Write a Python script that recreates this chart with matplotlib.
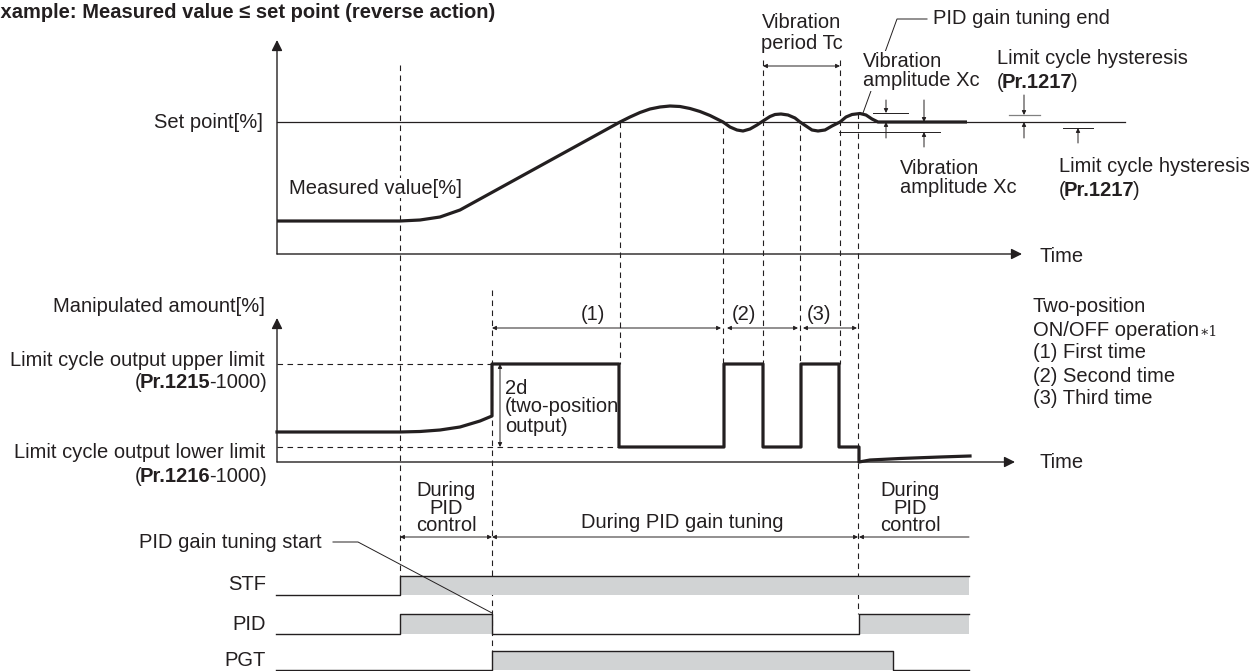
import matplotlib.pyplot as plt

plt.rcParams["font.family"] = ["Liberation Sans", "DejaVu Sans"]

INK = "#231f20"
GREY = "#d1d3d4"
FS = 14.5

# --- Daten (Zeitachse = x, Pegel = y) ---
set_point = 122
meas_t = [277, 400, 420, 440, 460, 480, 500, 520, 540, 560, 580, 600, 610, 620,
          630, 640, 650, 660, 670, 680, 690, 700, 710, 723,
          730, 737, 743, 750, 757, 763,
          770, 775, 781, 788, 795, 800,
          806, 812, 818, 825, 832, 840,
          846, 852, 860, 866, 872, 878, 967]
meas_y = [221, 221, 220, 217, 210, 199, 188, 177, 166, 155, 144, 133, 127.5, 122,
          117, 112.5, 109, 107, 106, 106.5, 108.5, 111.5, 115.5, 122,
          127, 130, 131, 129, 125, 121,
          116.5, 114.5, 114, 115, 118, 122,
          126, 130, 131, 130, 126, 122,
          117, 114.5, 113.5, 115, 119, 122, 122]

manip_pre_t = [277, 400, 420, 440, 460, 480, 492]
manip_pre_y = [432, 432, 431.5, 430, 427, 421, 416]
switch_t = [492, 619, 724, 763, 801, 839, 859]
upper_limit, lower_limit = 364, 447
manip_post_t = [859, 870, 900, 940, 970]
manip_post_y = [462, 460, 458.5, 457, 456]

dashed_x = [400, 492, 620, 723, 763, 800, 840, 858]
dashed_top = [65, 290, 122, 128, 60, 125, 60, 113]
dashed_bot = [576, 651, 364, 364, 364, 364, 364, 614]

cycles = ["(1)", "(2)", "(3)"]
cycle_span = [(492, 721), (727, 798), (803, 857)]
cycle_lab_x = [593, 744, 819]

signals = ["STF", "PID", "PGT"]
sig_low = [595, 634, 670]
sig_high = [576, 614, 651]
sig_on = [[(400, 969)], [(400, 492), (859, 969)], [(492, 893)]]
sig_end = 969

fig = plt.figure(figsize=(12.59, 6.71), dpi=100)
ax = fig.add_axes([0, 0, 1, 1])
ax.set_xlim(0, 1259)
ax.set_ylim(671, 0)
ax.axis("off")
renderer = fig.canvas.get_renderer()


def arrow(x0, y0, x1, y1, style="-|>", ms=6, lw=0.7):
    ax.annotate("", xy=(x1, y1), xytext=(x0, y0),
                arrowprops=dict(arrowstyle=style, color=INK, lw=lw,
                                mutation_scale=ms, shrinkA=0, shrinkB=0))


def txt(x, y, s, ha="left", **kw):
    kw.setdefault("fontsize", FS)
    return ax.text(x, y, s, ha=ha, va="center", color=INK, **kw)


def rich(x, y, parts, ha="left"):
    # Textstuecke nacheinander setzen (normal / fett)
    objs = []
    for s, w in parts:
        t = ax.text(0, y, s, ha="left", va="center", color=INK,
                    fontsize=FS, fontweight=w)
        objs.append(t)
    widths = [t.get_window_extent(renderer).width - 1.5 for t in objs]
    pos = x - sum(widths) if ha == "right" else x
    for t, w in zip(objs, widths):
        t.set_x(pos)
        pos += w
    return pos


# Titel
txt(-13, 12, "Example: Measured value \u2264 set point (reverse action)",
    fontweight="bold", fontsize=14.5)

# gestrichelte Hilfslinien
for x, t, b in zip(dashed_x, dashed_top, dashed_bot):
    ax.plot([x, x], [t, b], color=INK, lw=0.8, ls=(0, (5, 4)), zorder=1)
ax.plot([277, 492], [upper_limit] * 2, color=INK, lw=0.8, ls=(0, (5, 4)))
ax.plot([277, 619], [lower_limit] * 2, color=INK, lw=0.8, ls=(0, (5, 4)))

# oberes Diagramm
arrow(277, 254, 277, 40, ms=16, lw=1.0)
arrow(277, 254, 1022, 254, ms=16, lw=1.0)
ax.plot([277, 1125], [set_point] * 2, color=INK, lw=0.9)
ax.plot(meas_t, meas_y, color=INK, lw=2.3, solid_capstyle="butt", zorder=3)
txt(263, set_point, "Set point[%]", ha="right")
txt(289, 188, "Measured value[%]",
    bbox=dict(fc="white", ec="none", pad=0.5), zorder=2)
txt(1040, 256, "Time")

txt(802, 33, "Vibration\nperiod Tc", ha="center", multialignment="center",
    linespacing=1.1)
arrow(763, 66, 840, 66, style="<|-|>", ms=6)

ax.plot([863, 897, 927], [113, 19, 19], color=INK, lw=0.7)
txt(933, 19, "PID gain tuning end")
txt(863, 71, "Vibration\namplitude Xc", linespacing=1.05,
    bbox=dict(fc="white", ec="none", pad=0.3), zorder=4)

# Xc- und Hysterese-Markierungen
ax.plot([873, 908], [113, 113], color=INK, lw=0.7)
arrow(886, 100, 886, 113)
arrow(886, 138, 886, set_point)
ax.plot([839, 940], [132, 132], color=INK, lw=0.7)
arrow(924, 100, 924, set_point)
arrow(924, 147, 924, 132)
txt(900, 178, "Vibration\namplitude Xc", linespacing=1.05)

ax.plot([1009, 1040], [115, 115], color="#808080", lw=0.9)
arrow(1024, 95, 1024, 115)
arrow(1024, 138, 1024, set_point)
ax.plot([1063, 1093], [128, 128], color=INK, lw=0.7)
arrow(1078, 143, 1078, 128)
txt(997, 58, "Limit cycle hysteresis")
rich(997, 82, [("(", "normal"), ("Pr.1217", "bold"), (")", "normal")])
txt(1059, 167, "Limit cycle hysteresis")
rich(1059, 191, [("(", "normal"), ("Pr.1217", "bold"), (")", "normal")])

# mittleres Diagramm: Stellgroesse
arrow(277, 462, 277, 318, ms=16, lw=1.0)
arrow(277, 462, 1015, 462, ms=16, lw=1.0)
mt = list(manip_pre_t)
my = list(manip_pre_y)
for i, t in enumerate(switch_t):
    lvl = upper_limit if i % 2 == 0 else lower_limit
    mt += [t, t]
    my += [my[-1], lvl]
my[-1] = manip_post_y[0]
mt += manip_post_t[1:]
my += manip_post_y[1:]
ax.plot(mt, my, color=INK, lw=2.3, zorder=3)

txt(265, 307, "Manipulated amount[%]", ha="right")
txt(265, 360, "Limit cycle output upper limit", ha="right")
rich(265, 382, [("(", "normal"), ("Pr.1215", "bold"), ("-1000)", "normal")],
     ha="right")
txt(265, 453, "Limit cycle output lower limit", ha="right")
rich(265, 476, [("(", "normal"), ("Pr.1216", "bold"), ("-1000)", "normal")],
     ha="right")
txt(1040, 462, "Time")

arrow(500, 364, 500, 447, style="<|-|>", ms=6)
txt(505, 407, "2d\n(two-position\noutput)", linespacing=1.0)

for lab, (a, b), lx in zip(cycles, cycle_span, cycle_lab_x):
    arrow(a, 328, b, 328, style="<|-|>", ms=6)
    txt(lx, 314, lab, ha="center")

right_block = ["Two-position", "ON/OFF operation", "(1) First time",
               "(2) Second time", "(3) Third time"]
for i, s in enumerate(right_block):
    t = txt(1033, 307 + 23 * i, s)
    if i == 1:
        x_end = 1033 + t.get_window_extent(renderer).width
        txt(x_end + 1, 332, "\u22171", fontsize=10, family="DejaVu Serif")

# Phasen
txt(446, 508, "During\nPID\ncontrol", ha="center", multialignment="center",
    linespacing=0.88)
arrow(400, 537, 492, 537, style="<|-|>", ms=6)
txt(682, 522, "During PID gain tuning", ha="center")
arrow(492, 537, 858, 537, style="<|-|>", ms=6)
txt(910, 508, "During\nPID\ncontrol", ha="center", multialignment="center",
    linespacing=0.88)
arrow(969, 537, 859, 537, ms=6)

txt(322, 542, "PID gain tuning start", ha="right")
ax.plot([333, 358, 492], [542, 542, 613], color=INK, lw=0.7, zorder=5)

# Signale unten
for name, lo, hi, on in zip(signals, sig_low, sig_high, sig_on):
    txt(266, lo - 10, name, ha="right")
    xs, ys = [276], [lo]
    for a, b in on:
        ax.fill_between([a, b], hi, lo, color=GREY, lw=0, zorder=1)
        xs += [a, a, b, b]
        ys += [lo, hi, hi, lo]
    if on[-1][1] >= sig_end:
        xs, ys = xs[:-1], ys[:-1]
    else:
        xs.append(sig_end)
        ys.append(lo)
    ax.plot(xs, ys, color=INK, lw=1.0, zorder=2)

plt.savefig("out.png", dpi=100)
